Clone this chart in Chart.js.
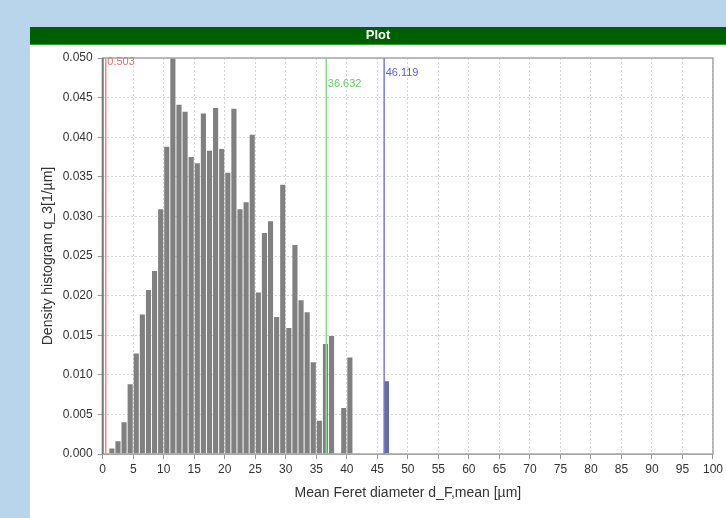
<!DOCTYPE html>
<html>
<head>
<meta charset="utf-8">
<title>Plot</title>
<script src="https://cdn.jsdelivr.net/npm/chart.js@4.4.1/dist/chart.umd.min.js"></script>
<style>
    html, body { margin: 0; padding: 0; background: #b9d5ec; overflow: hidden; }
    #plotChart { display: block; }
</style>
</head>
<body>
<canvas id="plotChart" width="726" height="518"></canvas>
<script>
/* Density histogram q_3 - Mean Feret diameter */

// Bin centres [µm]
const binCenters = [
    0.5, 1.5, 2.5, 3.5, 4.5, 5.5, 6.5, 7.5, 8.5, 9.5,
    10.5, 11.5, 12.5, 13.5, 14.5, 15.5, 16.5, 17.5, 18.5, 19.5,
    20.5, 21.5, 22.5, 23.5, 24.5, 25.5, 26.5, 27.5, 28.5, 29.5,
    30.5, 31.5, 32.5, 33.5, 34.5, 35.5, 36.5, 37.5, 38.5, 39.5,
    40.5, 41.5, 42.5, 43.5, 44.5, 45.5, 46.5
];

// Density q_3 [1/µm]
const density = [
    0.0000, 0.0007, 0.0016, 0.0040, 0.0088, 0.0127, 0.0176, 0.0207, 0.0231, 0.0309,
    0.0388, 0.0515, 0.0441, 0.0432, 0.0375, 0.0367, 0.0430, 0.0383, 0.0437, 0.0385,
    0.0355, 0.0436, 0.0309, 0.0318, 0.0403, 0.0204, 0.0279, 0.0294, 0.0173, 0.0340,
    0.0159, 0.0264, 0.0194, 0.0179, 0.0116, 0.0042, 0.0139, 0.0149, 0.0000, 0.0058,
    0.0122, 0.0000, 0.0000, 0.0000, 0.0000, 0.0000, 0.0092
];

// Statistic markers (vertical lines)
const markerValues = [0.503, 36.632, 46.119];
const markerLabels = ['0.503', '36.632', '46.119'];

// Axis ranges / steps
const xRange = [0, 100];
const xStep = 5;
const yRange = [0, 0.05];
const yStep = 0.005;

// Styles
const colors = {
    page: '#b9d5ec',
    panel: '#ffffff',
    titleBar: '#005f00',
    titleLine: '#3f9a3f',
    bar: '#808080',
    barBlue: '#6c6c98',
    grid: '#d6d6d6',
    frame: '#a6a6a6',
    frameLeft: '#7a7a7a',
    text: '#333333'
};
const markerStyles = [
    { line: '#e58a8a', text: '#e07070', dy: 4 },
    { line: '#86dc86', text: '#66cc66', dy: 26 },
    { line: '#7c7cd8', text: '#5d5dd0', dy: 15 }
];

Chart.defaults.font.family = "'Liberation Sans', Arial, sans-serif";
Chart.defaults.color = colors.text;

// Page panel + green title bar
const panelPlugin = {
    id: 'panel',
    beforeDraw(chart) {
        const ctx = chart.ctx;
        ctx.save();
        ctx.fillStyle = colors.page;
        ctx.fillRect(0, 0, chart.width, chart.height);
        ctx.fillStyle = colors.panel;
        ctx.fillRect(30, 27, chart.width - 30, chart.height - 27);
        ctx.fillStyle = colors.titleBar;
        ctx.fillRect(30, 27, chart.width - 30, 17);
        ctx.fillStyle = colors.titleLine;
        ctx.fillRect(30, 44, chart.width - 30, 1);
        ctx.fillStyle = '#ffffff';
        ctx.font = "bold 13px 'Liberation Sans', Arial, sans-serif";
        ctx.textAlign = 'center';
        ctx.textBaseline = 'middle';
        ctx.fillText('Plot', 30 + (chart.width - 30) / 2, 35.5);
        ctx.restore();
    }
};

// Frame round the plot area
const framePlugin = {
    id: 'frame',
    afterDatasetsDraw(chart) {
        const { ctx, chartArea: a } = chart;
        ctx.save();
        ctx.strokeStyle = colors.frame;
        ctx.lineWidth = 1.5;
        ctx.strokeRect(a.left, a.top, a.right - a.left, a.bottom - a.top);
        ctx.strokeStyle = colors.frameLeft;
        ctx.lineWidth = 2;
        ctx.beginPath();
        ctx.moveTo(a.left, a.top);
        ctx.lineTo(a.left, a.bottom);
        ctx.stroke();
        ctx.restore();
    }
};

// Vertical statistic lines with their values
const markerPlugin = {
    id: 'markers',
    afterDatasetsDraw(chart) {
        const { ctx, chartArea: a, scales } = chart;
        ctx.save();
        markerValues.forEach((v, i) => {
            const x = scales.x.getPixelForValue(v);
            const st = markerStyles[i];
            ctx.strokeStyle = st.line;
            ctx.lineWidth = 1.5;
            ctx.beginPath();
            ctx.moveTo(x, a.top);
            ctx.lineTo(x, a.bottom);
            ctx.stroke();
            ctx.fillStyle = st.text;
            ctx.font = "11px 'Liberation Sans', Arial, sans-serif";
            ctx.textAlign = 'left';
            ctx.textBaseline = 'middle';
            ctx.fillText(markerLabels[i], x + 1.5, a.top + st.dy);
        });
        ctx.restore();
    }
};

const barColors = binCenters.map(c => (c > markerValues[2] ? colors.barBlue : colors.bar));

new Chart(document.getElementById('plotChart'), {
    type: 'bar',
    data: {
        datasets: [{
            label: 'q_3',
            data: binCenters.map((c, i) => ({ x: c, y: density[i] })),
            backgroundColor: barColors,
            borderWidth: 0,
            categoryPercentage: 1,
            barPercentage: 0.84
        }]
    },
    plugins: [panelPlugin, framePlugin, markerPlugin],
    options: {
        responsive: false,
        animation: false,
        layout: { padding: { left: 30, top: 58, right: 13, bottom: 0 } },
        plugins: {
            legend: { display: false },
            tooltip: { enabled: false }
        },
        scales: {
            x: {
                type: 'linear',
                offset: false,
                min: xRange[0],
                max: xRange[1],
                ticks: {
                    stepSize: xStep,
                    autoSkip: false,
                    maxRotation: 0,
                    padding: 3,
                    color: colors.text,
                    font: { size: 12 }
                },
                grid: { offset: false, color: colors.grid, tickColor: '#999', tickLength: 5 },
                border: { color: colors.frame, dash: [2, 2] },
                title: {
                    display: true,
                    text: 'Mean Feret diameter d_F,mean [µm]',
                    color: colors.text,
                    font: { size: 14 },
                    padding: { top: 4, bottom: 16.5 }
                },
                afterFit: (scale) => { scale.height = 64; }
            },
            y: {
                min: yRange[0],
                max: yRange[1],
                ticks: {
                    stepSize: yStep,
                    padding: 5,
                    color: colors.text,
                    font: { size: 12 },
                    callback: (v) => Number(v).toFixed(3)
                },
                grid: { color: colors.grid, tickColor: '#999', tickLength: 5 },
                border: { color: colors.frameLeft, dash: [2, 2] },
                title: {
                    display: true,
                    text: 'Density histogram q_3[1/µm]',
                    color: colors.text,
                    font: { size: 14 },
                    padding: { top: 9.5, bottom: 0 }
                },
                afterFit: (scale) => { scale.width = 72.7; }
            }
        }
    }
});
</script>
</body>
</html>
